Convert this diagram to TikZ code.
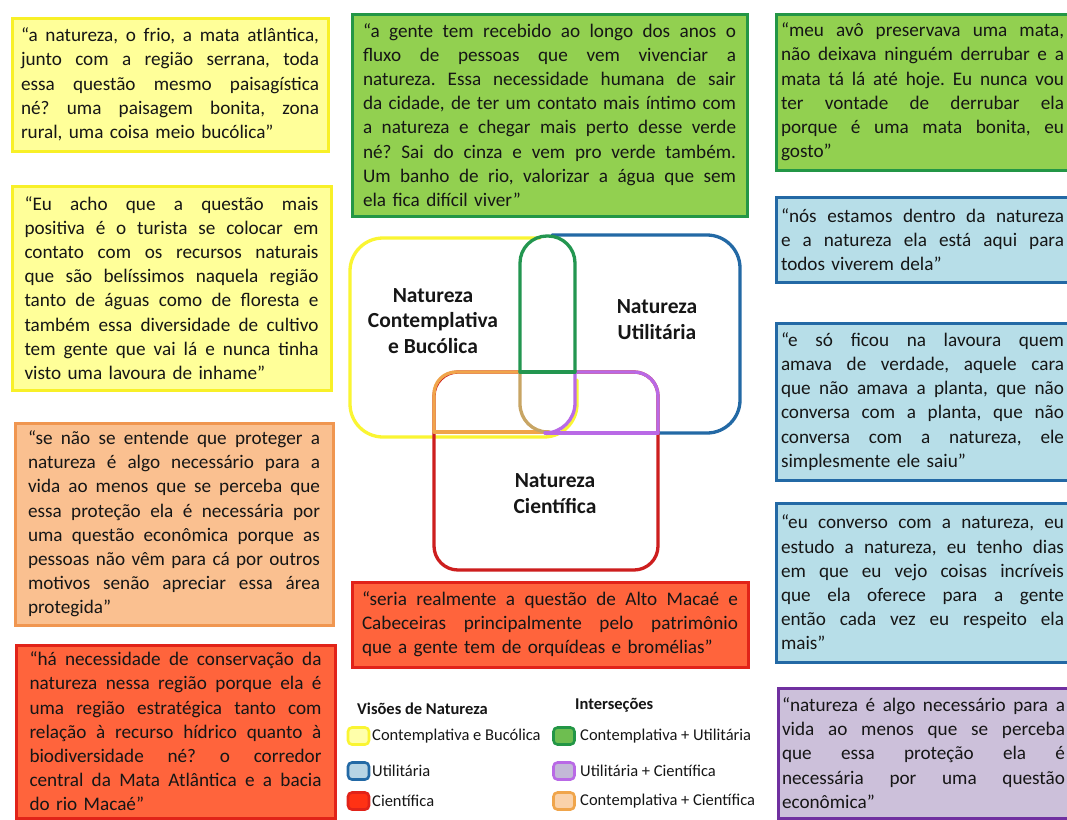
\documentclass[tikz,border=0pt]{standalone}
\usepackage{fontspec}
\setmainfont{Carlito}
\definecolor{txt}{RGB}{22,22,22}
\definecolor{yfill}{RGB}{255,255,153}
\definecolor{yborder}{RGB}{248,240,40}
\definecolor{ofill}{RGB}{250,192,144}
\definecolor{oborder}{RGB}{240,150,80}
\definecolor{rfill}{RGB}{255,100,60}
\definecolor{rborder}{RGB}{225,35,25}
\definecolor{gfill}{RGB}{146,208,80}
\definecolor{gborder}{RGB}{35,150,70}
\definecolor{bfill}{RGB}{183,222,232}
\definecolor{bborder}{RGB}{35,105,165}
\definecolor{pfill}{RGB}{204,192,218}
\definecolor{pborder}{RGB}{112,48,160}
\definecolor{vy}{RGB}{250,245,50}
\definecolor{vb}{RGB}{35,105,165}
\definecolor{vr}{RGB}{205,30,30}
\definecolor{vg}{RGB}{35,150,80}
\definecolor{vp}{RGB}{185,105,230}
\definecolor{vo}{RGB}{240,165,75}
\definecolor{vt}{RGB}{200,165,100}
\definecolor{lyf}{RGB}{255,255,170}
\definecolor{lbf}{RGB}{183,212,228}
\definecolor{lrf}{RGB}{255,50,20}
\definecolor{lgf}{RGB}{110,190,80}
\definecolor{lpf}{RGB}{195,185,215}
\definecolor{lof}{RGB}{250,210,170}
\frenchspacing
\newcommand\J[1]{\hbox to \hsize{\spaceskip=\fontdimen2\font plus 1fil minus \fontdimen4\font\relax #1}\par}
\begin{document}
\begin{tikzpicture}[x=1pt,y=-1pt,
  qbox/.style={draw, line width=3pt, inner xsep=0pt, inner ysep=0pt, align=left,
    font=\fontsize{19.2}{24.2}\selectfont, text=txt},
  venn/.style={line width=3.3pt, line cap=round, line join=round},
  vlabel/.style={align=center, font=\fontsize{21.5}{25.8}\selectfont\bfseries, text=txt},
  lsq/.style={draw, line width=2.6pt, rounded corners=4pt, minimum width=21pt, minimum height=17pt, inner sep=0pt},
  ltext/.style={anchor=west, inner sep=0pt, font=\fontsize{16.5}{20}\selectfont, text=txt},
  lhead/.style={anchor=west, inner sep=0pt, font=\fontsize{16.5}{20}\selectfont\bfseries, text=txt}]
\useasboundingbox[fill=white] (0,0) rectangle (1067,819);

% ---------- left column ----------
\node[qbox, draw=yborder, fill=yfill, minimum width=316pt, minimum height=133pt, text width=298pt] (y1) at (170,84.5)
{\J{“a natureza, o frio, a mata atlântica,}\J{junto com a região serrana, toda}\J{essa questão mesmo paisagística}\J{né? uma paisagem bonita, zona}rural, uma coisa meio bucólica”};

\node[qbox, draw=yborder, fill=yfill, minimum width=319pt, minimum height=204pt, text width=294pt] (y2) at (171.5,288)
{\J{“Eu acho que a questão mais}\J{positiva é o turista se colocar em}\J{contato com os recursos naturais}\J{que são belíssimos naquela região}\J{tanto de águas como de floresta e}\J{também essa diversidade de cultivo}\J{tem gente que vai lá e nunca tinha}visto uma lavoura de inhame”};

\node[qbox, draw=oborder, fill=ofill, minimum width=318pt, minimum height=202pt, text width=292pt] (o1) at (174,524)
{\J{“se não se entende que proteger a}\J{natureza é algo necessário para a}\J{vida ao menos que se perceba que}\J{essa proteção ela é necessária por}\J{uma questão econômica porque as}\J{pessoas não vêm para cá por outros}\J{motivos senão apreciar essa área}protegida”};

\node[qbox, draw=rborder, fill=rfill, minimum width=319pt, minimum height=173pt, text width=292pt] (r1) at (175.5,731.5)
{\J{“há necessidade de conservação da}\J{natureza nessa região porque ela é}\J{uma região estratégica tanto com}\J{relação à recurso hídrico quanto à}\J{biodiversidade né? o corredor}\J{central da Mata Atlântica e a bacia}do rio Macaé”};

% ---------- centre column ----------
\node[qbox, draw=gborder, fill=gfill, minimum width=395pt, minimum height=202pt, text width=373pt] (g1) at (549.5,115)
{\J{“a gente tem recebido ao longo dos anos o}\J{fluxo de pessoas que vem vivenciar a}\J{natureza. Essa necessidade humana de sair}\J{da cidade, de ter um contato mais íntimo com}\J{a natureza e chegar mais perto desse verde}\J{né? Sai do cinza e vem pro verde também.}\J{Um banho de rio, valorizar a água que sem}ela fica difícil viver”};

\node[qbox, draw=rborder, fill=rfill, minimum width=396pt, minimum height=85pt, text width=376pt] (r2) at (550,624.5)
{\J{“seria realmente a questão de Alto Macaé e}\J{Cabeceiras principalmente pelo patrimônio}que a gente tem de orquídeas e bromélias”};

% ---------- right column ----------
\node[qbox, draw=gborder, fill=gfill, minimum width=293pt, minimum height=156pt, text width=283pt] (g2) at (922.5,92)
{\J{“meu avô preservava uma mata,}\J{não deixava ninguém derrubar e a}\J{mata tá lá até hoje. Eu nunca vou}\J{ter vontade de derrubar ela}\J{porque é uma mata bonita, eu}gosto”};

\node[qbox, draw=bborder, fill=bfill, minimum width=293pt, minimum height=85pt, text width=283pt] (b1) at (922.5,239.5)
{\J{“nós estamos dentro da natureza}\J{e a natureza ela está aqui para}todos viverem dela”};

\node[qbox, draw=bborder, fill=bfill, minimum width=293pt, minimum height=157pt, text width=283pt] (b2) at (922.5,401.5)
{\J{“e só ficou na lavoura quem}\J{amava de verdade, aquele cara}\J{que não amava a planta, que não}\J{conversa com a planta, que não}\J{conversa com a natureza, ele}simplesmente ele saiu”};

\node[qbox, draw=bborder, fill=bfill, minimum width=293pt, minimum height=159pt, text width=283pt] (b3) at (922.5,582.5)
{\J{“eu converso com a natureza, eu}\J{estudo a natureza, eu tenho dias}\J{em que eu vejo coisas incríveis}\J{que ela oferece para a gente}\J{então cada vez eu respeito ela}mais”};

\node[qbox, draw=pborder, fill=pfill, minimum width=291pt, minimum height=130pt, text width=283pt] (p1) at (923.5,753)
{\J{“natureza é algo necessário para a}\J{vida ao menos que se perceba}\J{que essa proteção ela é}\J{necessária por uma questão}econômica”};

% ---------- Venn diagram ----------
\begin{scope}[venn]
\draw[vy, rounded corners=33pt] (540,238) -- (350,238) -- (350,437) -- (577,437) -- (577,380);
\draw[vb, rounded corners=33pt] (552,235) -- (740,235) -- (740,433) -- (560,433);
\draw[vr, rounded corners=24pt] (434,372) rectangle (658,570);
\draw[vo, rounded corners=22pt] (434,432) -- (434,372) -- (520,372);
\draw[vo] (434,432) -- (548,432);
\draw[vt, rounded corners=28pt] (520,372) -- (520,432) -- (550,432);
\draw[vp, rounded corners=30pt] (575,372) -- (575,433) -- (545,433);
\draw[vp] (545,433) -- (658,433);
\draw[vp, rounded corners=24pt] (658,433) -- (658,372) -- (575,372);
\draw[vg, rounded corners=27pt] (520,372) -- (520,236) -- (575,236) -- (575,372);
\draw[vg] (520,372) -- (575,372);
\end{scope}
\node[vlabel] (lc) at (433,321) {Natureza\\Contemplativa\\e Bucólica};
\node[vlabel] (lu) at (657,320) {Natureza\\Utilitária};
\node[vlabel] (ls) at (555,494) {Natureza\\Científica};

% ---------- legend ----------
\node[lhead] (h1) at (357,709) {Visões de Natureza};
\node[lhead] (h2) at (575,705) {Interseções};
\node[lsq, draw=vy, fill=lyf] (q1) at (358.5,736) {};
\node[lsq, draw=bborder, fill=lbf] (q2) at (358.5,771) {};
\node[lsq, draw=rborder, fill=lrf] (q3) at (358.5,801) {};
\node[lsq, draw=gborder, fill=lgf] (q4) at (564,736) {};
\node[lsq, draw=vp, fill=lpf] (q5) at (564,771) {};
\node[lsq, draw=vo, fill=lof] (q6) at (564,801) {};
\node[ltext] (t1) at (372,736) {Contemplativa e Bucólica};
\node[ltext] (t2) at (372,771) {Utilitária};
\node[ltext] (t3) at (372,801) {Científica};
\node[ltext] (t4) at (580,736) {Contemplativa + Utilitária};
\node[ltext] (t5) at (580,771) {Utilitária + Científica};
\node[ltext] (t6) at (580,801) {Contemplativa + Científica};
\end{tikzpicture}
\end{document}
